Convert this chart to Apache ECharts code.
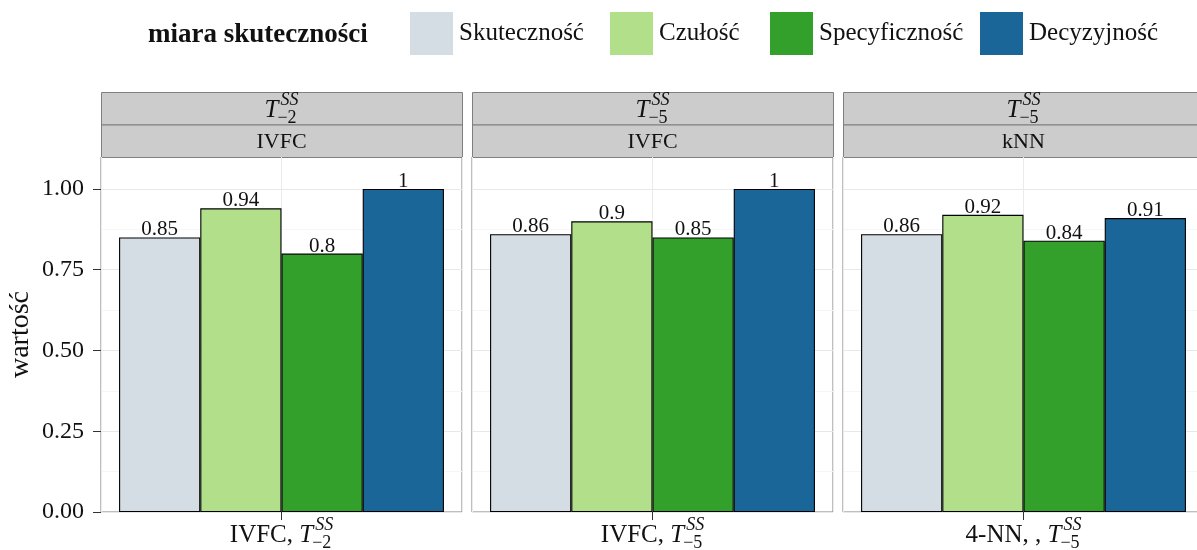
<!DOCTYPE html>
<html>
<head>
<meta charset="utf-8">
<script src="https://cdn.jsdelivr.net/npm/echarts@6/dist/echarts.min.js"></script>
<style>
  html, body { margin: 0; padding: 0; background: #fff; overflow: hidden; }
  /* the last facet runs past the right edge of the visible area */
  #chart { width: 1210px; height: 550px; }
</style>
</head>
<body>
<div id="chart"></div>
<script>
// ---- data ----
const measures = ['Skuteczność', 'Czułość', 'Specyficzność', 'Decyzyjność'];
// facet strips: subscript of the training set T^{SS}_{k} and the method
const stripSubscripts = ['−2', '−5', '−5'];
const stripMethods = ['IVFC', 'IVFC', 'kNN'];
// x category of each facet: text before T^{SS}_{k}
const xPrefixes = ['IVFC, ', 'IVFC, ', '4-NN, , '];
const xCategories = ['IVFC, T^SS_−2', 'IVFC, T^SS_−5', '4-NN, , T^SS_−5'];
// one value per facet for each measure
const skutecznosc   = [0.85, 0.86, 0.86];
const czulosc       = [0.94, 0.90, 0.92];
const specyficznosc = [0.80, 0.85, 0.84];
const decyzyjnosc   = [1.00, 1.00, 0.91];
const yTicks = [0, 0.25, 0.5, 0.75, 1.0];
const legendTitle = 'miara skuteczności';
const yTitle = 'wartość';

const seriesValues = [skutecznosc, czulosc, specyficznosc, decyzyjnosc];

// ---- layout & style ----
const FONT = '"Liberation Serif", "Times New Roman", serif';
const TEXT = '#111';
const colors = ['#d4dde4', '#b2df8a', '#33a02c', '#1b6699'];
const panelLeft = [101, 472, 843];
const panelWidth = 361;
const plotTop = 157, plotHeight = 355;
const stripTop = 92, stripRow = 32.5;
const yMax = 1.099;
const legendKeyX = [410, 610, 770, 980];

const ctx = document.createElement('canvas').getContext('2d');
function textWidth(s, font) { ctx.font = font; return ctx.measureText(s).width; }

// prefix + T^{SS}_{sub}, centred on cx
function mathLabel(cx, cy, prefix, sub, size) {
  const fMain = size + 'px ' + FONT;
  const fItal = 'italic ' + size + 'px ' + FONT;
  const small = Math.round(size * 0.7);
  const fSup = 'italic ' + small + 'px ' + FONT;
  const fSub = small + 'px ' + FONT;
  const wp = prefix ? textWidth(prefix, fMain) : 0;
  const wT = textWidth('T', fItal);
  const ws = Math.max(textWidth('SS', fSup) + 2, textWidth(sub, fSub));
  const x0 = cx - (wp + wT + ws) / 2;
  const base = { fill: TEXT, align: 'left', verticalAlign: 'middle' };
  const els = [];
  if (prefix) els.push({ type: 'text', style: Object.assign({ text: prefix, x: x0, y: cy, font: fMain }, base) });
  els.push({ type: 'text', style: Object.assign({ text: 'T', x: x0 + wp, y: cy, font: fItal }, base) });
  els.push({ type: 'text', style: Object.assign({ text: 'SS', x: x0 + wp + wT + 2, y: cy - size * 0.38, font: fSup }, base) });
  els.push({ type: 'text', style: Object.assign({ text: sub, x: x0 + wp + wT - 1, y: cy + size * 0.32, font: fSub }, base) });
  return els;
}

const grids = [], xAxes = [], yAxes = [], series = [], graphics = [];

panelLeft.forEach((left) => {
  grids.push({ left: left, top: plotTop, width: panelWidth, height: plotHeight,
    show: true, backgroundColor: '#fff', borderColor: '#7f7f7f', borderWidth: 1 });
});

// category axes (bars)
panelLeft.forEach((left, i) => {
  xAxes.push({ type: 'category', gridIndex: i, data: [xCategories[i]],
    axisLine: { show: false }, axisLabel: { show: false },
    axisTick: { show: true, alignWithLabel: true, length: 8, lineStyle: { color: '#333', width: 1 } },
    splitLine: { show: false } });
});
// helper value axes: vertical grid line at the category centre
panelLeft.forEach((left, i) => {
  xAxes.push({ type: 'value', gridIndex: i, min: 0, max: 1, interval: 0.5,
    axisLine: { show: false }, axisLabel: { show: false }, axisTick: { show: false },
    splitLine: { show: true, lineStyle: { color: '#ebebeb', width: 1 } } });
});

panelLeft.forEach((left, i) => {
  const first = i === 0;
  yAxes.push({ type: 'value', gridIndex: i, min: 0, max: yMax, interval: 0.25,
    name: first ? yTitle : '', nameLocation: 'middle', nameGap: 66, nameRotate: 90,
    nameTextStyle: { fontFamily: FONT, fontSize: 28, color: TEXT },
    axisLine: { show: false },
    axisTick: { show: first, length: 8, customValues: yTicks, lineStyle: { color: '#333', width: 1 } },
    axisLabel: { show: first, customValues: yTicks, margin: 17, fontFamily: FONT, fontSize: 24, color: TEXT,
      formatter: v => v.toFixed(2) },
    splitLine: { show: true, lineStyle: { color: '#e8e8e8', width: 1 } },
    minorTick: { show: false, splitNumber: 2 },
    minorSplitLine: { show: true, lineStyle: { color: '#f6f6f6', width: 1 } } });
});

measures.forEach((name, m) => {
  panelLeft.forEach((left, i) => {
    series.push({ type: 'bar', name: name, xAxisIndex: i, yAxisIndex: i,
      data: [seriesValues[m][i]], barGap: '0%', barCategoryGap: '10%',
      itemStyle: { color: colors[m], borderColor: '#000', borderWidth: 1.1 },
      label: { show: true, position: 'top', distance: -3, fontFamily: FONT, fontSize: 21, color: TEXT },
      emphasis: { disabled: true } });
  });
});

// facet strips and x labels
panelLeft.forEach((left, i) => {
  const cx = left + panelWidth / 2;
  graphics.push({ type: 'rect', shape: { x: left + 0.5, y: stripTop + 0.5, width: panelWidth, height: stripRow },
    style: { fill: '#cccccc', stroke: '#7f7f7f', lineWidth: 1 } });
  graphics.push({ type: 'rect', shape: { x: left + 0.5, y: stripTop + stripRow + 0.5, width: panelWidth, height: stripRow },
    style: { fill: '#cccccc', stroke: '#7f7f7f', lineWidth: 1 } });
  mathLabel(cx, stripTop + stripRow / 2 + 2, '', stripSubscripts[i], 25).forEach(e => graphics.push(e));
  graphics.push({ type: 'text', style: { text: stripMethods[i], x: cx, y: stripTop + stripRow * 1.5 + 1,
    font: '22px ' + FONT, fill: TEXT, align: 'center', verticalAlign: 'middle' } });
  mathLabel(cx, 535, xPrefixes[i], stripSubscripts[i], 25).forEach(e => graphics.push(e));
});

graphics.push({ type: 'text', style: { text: legendTitle, x: 148, y: 35,
  font: 'bold 27px ' + FONT, fill: TEXT, align: 'left', verticalAlign: 'middle' } });

const legends = measures.map((name, m) => ({
  data: [name], left: legendKeyX[m], top: 12, padding: 0, itemGap: 0,
  icon: 'rect', itemWidth: 43, itemHeight: 43,
  itemStyle: { borderWidth: 0 },
  selectedMode: false,
  textStyle: { fontFamily: FONT, fontSize: 25, color: TEXT, padding: [0, 0, 0, 1] }
}));

const chart = echarts.init(document.getElementById('chart'), null, { renderer: 'canvas' });
chart.setOption({
  animation: false,
  color: colors,
  legend: legends,
  grid: grids,
  xAxis: xAxes,
  yAxis: yAxes,
  series: series,
  graphic: graphics
});
</script>
</body>
</html>
